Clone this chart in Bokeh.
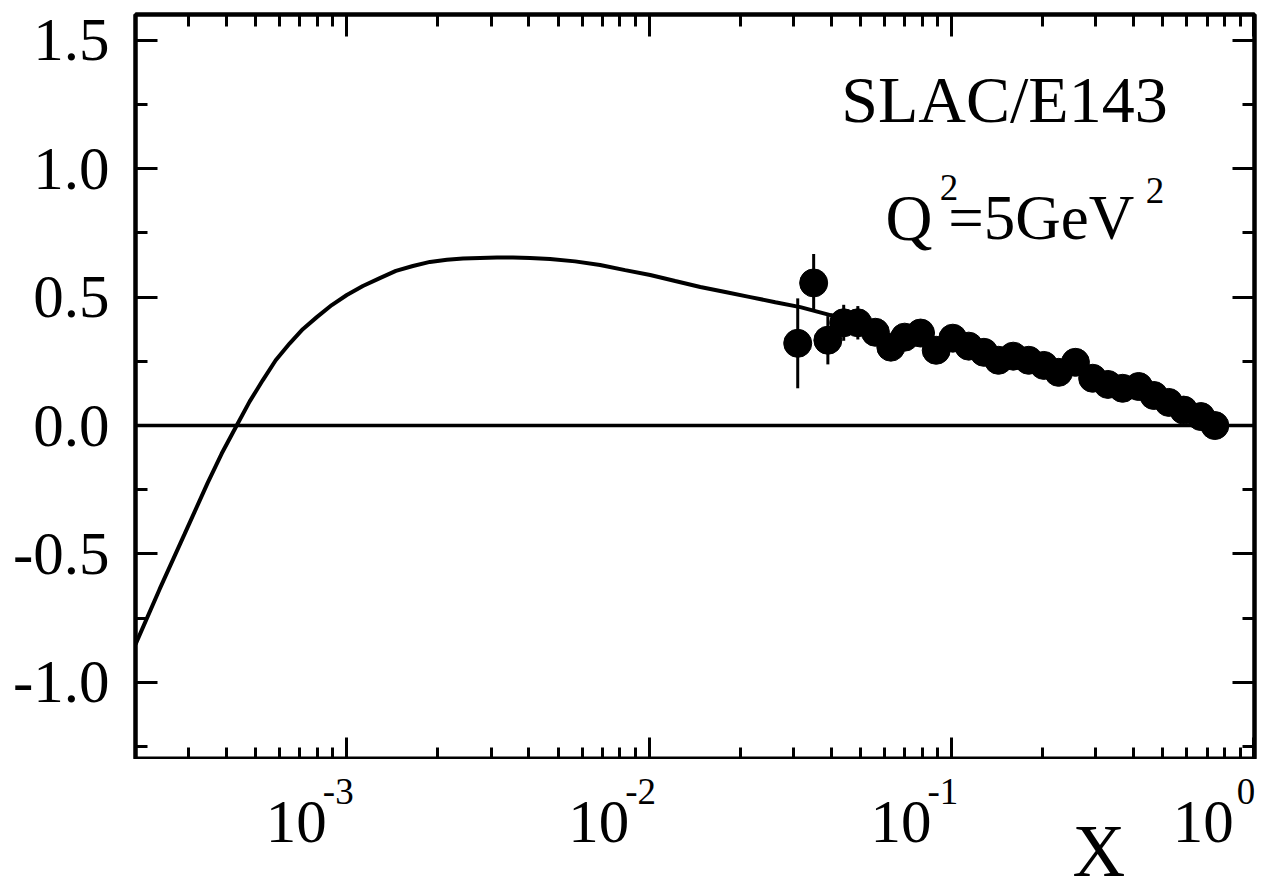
from bokeh.plotting import figure
from bokeh.models import (FixedTicker, LogAxis, LinearAxis, Label, Span, ColumnDataSource,
                          Range1d, CustomJSTickFormatter)
from bokeh.layouts import column
from bokeh.embed import file_html
from bokeh.resources import INLINE

# ---- data ----
data_x = [0.031, 0.035, 0.039, 0.044, 0.049, 0.056, 0.063, 0.070, 0.079, 0.089,
          0.101, 0.114, 0.128, 0.143, 0.160, 0.180, 0.202, 0.226, 0.257, 0.293,
          0.329, 0.368, 0.416, 0.467, 0.523, 0.586, 0.668, 0.743]
data_y = [0.320, 0.555, 0.332, 0.400, 0.400, 0.363, 0.305, 0.344, 0.360, 0.293,
          0.340, 0.309, 0.285, 0.254, 0.270, 0.254, 0.234, 0.207, 0.246, 0.184,
          0.160, 0.145, 0.152, 0.117, 0.090, 0.060, 0.035, 0.000]
data_err = [0.175, 0.113, 0.094, 0.070, 0.065, 0.050, 0.045, 0.040, 0.035, 0.035,
            0.030, 0.030, 0.030, 0.030, 0.030, 0.030, 0.030, 0.030, 0.030, 0.030,
            0.030, 0.030, 0.030, 0.030, 0.030, 0.030, 0.030, 0.030]

curve_x = [2.0e-4, 2.403e-4, 2.908e-4, 3.465e-4, 3.856e-4, 4.322e-4, 4.773e-4, 5.270e-4,
           5.818e-4, 6.476e-4, 7.150e-4, 7.957e-4, 8.918e-4, 1.0e-3, 1.130e-3, 1.286e-3,
           1.453e-3, 1.654e-3, 1.883e-3, 2.143e-3, 2.422e-3, 2.757e-3, 3.138e-3, 3.545e-3,
           4.036e-3, 4.700e-3, 5.689e-3, 6.882e-3, 8.326e-3, 1.008e-2, 1.219e-2, 1.476e-2,
           1.785e-2, 2.160e-2, 2.613e-2, 3.162e-2, 3.974e-2, 4.996e-2]
curve_y = [-0.852, -0.637, -0.422, -0.223, -0.109, 0.000, 0.094, 0.176,
           0.254, 0.320, 0.375, 0.422, 0.469, 0.508, 0.543, 0.574,
           0.602, 0.621, 0.637, 0.645, 0.650, 0.652, 0.654, 0.654,
           0.652, 0.648, 0.639, 0.625, 0.605, 0.586, 0.5625, 0.539,
           0.520, 0.500, 0.480, 0.461, 0.430, 0.402]

x_tick_vals = [1e-3, 1e-2, 1e-1, 1e0]
x_tick_base = ["10", "10", "10", "10"]
x_tick_exp = ["-3", "-2", "-1", "0"]
x_minor_mult = [2, 3, 4, 5, 6, 7, 8, 9]
x_minor_decades = [1e-4, 1e-3, 1e-2, 1e-1]
y_tick_vals = [-1.0, -0.5, 0.0, 0.5, 1.0, 1.5]
y_tick_labels = ["-1.0", "-0.5", "0.0", "0.5", "1.0", "1.5"]
y_minor_vals = [-1.25, -0.75, -0.25, 0.25, 0.75, 1.25]

x_label = "X"
title_text = "SLAC/E143"

FONT = "Liberation Serif"
W, H = 1271, 891
MAIN_H = 759
STRIP_H = H - MAIN_H

x_minor_vals = [m * d for d in x_minor_decades for m in x_minor_mult]

p = figure(width=W, height=MAIN_H, x_axis_type="log", x_axis_location=None,
           x_range=Range1d(2e-4, 1.005), y_range=Range1d(-1.3, 1.6),
           output_backend="svg", toolbar_location=None,
           min_border_left=135, min_border_right=17,
           min_border_top=14, min_border_bottom=0)
p.grid.visible = False
p.outline_line_color = "black"
p.outline_line_width = 4
p.background_fill_color = "white"
p.border_fill_color = "white"

xt = FixedTicker(ticks=x_tick_vals, minor_ticks=x_minor_vals)
yt = FixedTicker(ticks=y_tick_vals, minor_ticks=y_minor_vals)

bottom_ax = LogAxis()
top_ax = LogAxis()
right_ax = LinearAxis()
p.add_layout(bottom_ax, "below")
p.add_layout(top_ax, "above")
p.add_layout(right_ax, "right")
left_ax = p.left[0]

def style(ax, ticker, show_labels):
    ax.ticker = ticker
    ax.axis_line_width = 4
    ax.axis_line_color = "black"
    ax.major_tick_in = 22
    ax.major_tick_out = 0
    ax.minor_tick_in = 12
    ax.minor_tick_out = 0
    ax.major_tick_line_width = 3
    ax.minor_tick_line_width = 3
    ax.major_tick_line_color = "black"
    ax.minor_tick_line_color = "black"
    if not show_labels:
        ax.formatter = CustomJSTickFormatter(code="return '';")
        ax.major_label_text_font_size = "1px"
        ax.major_label_text_color = None
        ax.major_label_standoff = 0

style(bottom_ax, xt, False)
style(top_ax, xt, False)
style(left_ax, yt, True)
style(right_ax, yt, False)

left_ax.major_label_overrides = {v: s for v, s in zip(y_tick_vals, y_tick_labels)}
left_ax.major_label_text_font = FONT
left_ax.major_label_text_font_size = "61px"
left_ax.major_label_text_color = "black"
left_ax.major_label_standoff = 26

# zero line
p.add_layout(Span(location=0, dimension="width", line_color="black", line_width=3.5))

# curve
p.line(curve_x, curve_y, line_color="black", line_width=4)

# data with error bars
src = ColumnDataSource(dict(x=data_x, y=data_y,
                            lo=[y - e for y, e in zip(data_y, data_err)],
                            hi=[y + e for y, e in zip(data_y, data_err)]))
p.segment(x0="x", y0="lo", x1="x", y1="hi", source=src, line_color="black", line_width=3)
p.scatter(x="x", y="y", source=src, size=28, marker="circle",
          fill_color="black", line_color="black")

# annotations inside the frame
p.add_layout(Label(x=0.0432, y=1.270, text=title_text, text_font=FONT, text_font_size="66px",
                   text_align="left", text_baseline="alphabetic", text_color="black"))
p.add_layout(Label(x=0.0605, y=0.809, text="Q", text_font=FONT, text_font_size="65px",
                   text_align="left", text_baseline="alphabetic", text_color="black"))
p.add_layout(Label(x=0.0915, y=0.925, text="2", text_font=FONT, text_font_size="37px",
                   text_align="left", text_baseline="alphabetic", text_color="black"))
p.add_layout(Label(x=0.0975, y=0.809, text="=5GeV", text_font=FONT, text_font_size="63px",
                   text_align="left", text_baseline="alphabetic", text_color="black"))
p.add_layout(Label(x=0.439, y=0.915, text="2", text_font=FONT, text_font_size="37px",
                   text_align="left", text_baseline="alphabetic", text_color="black"))

# strip below the frame holding the x tick labels and the axis title
p2 = figure(width=W, height=STRIP_H, x_axis_type="log", x_range=p.x_range,
            y_range=Range1d(0, STRIP_H), x_axis_location=None, y_axis_location=None,
            min_border_left=135, min_border_right=17, min_border_top=0, min_border_bottom=0,
            output_backend="svg", toolbar_location=None)
p2.grid.visible = False
p2.outline_line_color = None
p2.background_fill_color = "white"
p2.border_fill_color = "white"

for v, b, e in zip(x_tick_vals, x_tick_base, x_tick_exp):
    p2.add_layout(Label(x=v, y=69.5, text=b, text_font=FONT, text_font_size="61px",
                        text_align="right", text_baseline="alphabetic", x_offset=-20,
                        text_color="black"))
    p2.add_layout(Label(x=v, y=100.5, text=e, text_font=FONT, text_font_size="37px",
                        text_align="left", text_baseline="alphabetic",
                        x_offset=(-24 if e.startswith("-") else -17), text_color="black"))

p2.add_layout(Label(x=0.307, y=40, text=x_label, text_font=FONT, text_font_size="73px",
                    text_align="center", text_baseline="alphabetic", text_color="black"))

layout = column(p, p2, spacing=0)
open("out.html", "w").write(file_html(layout, INLINE))
